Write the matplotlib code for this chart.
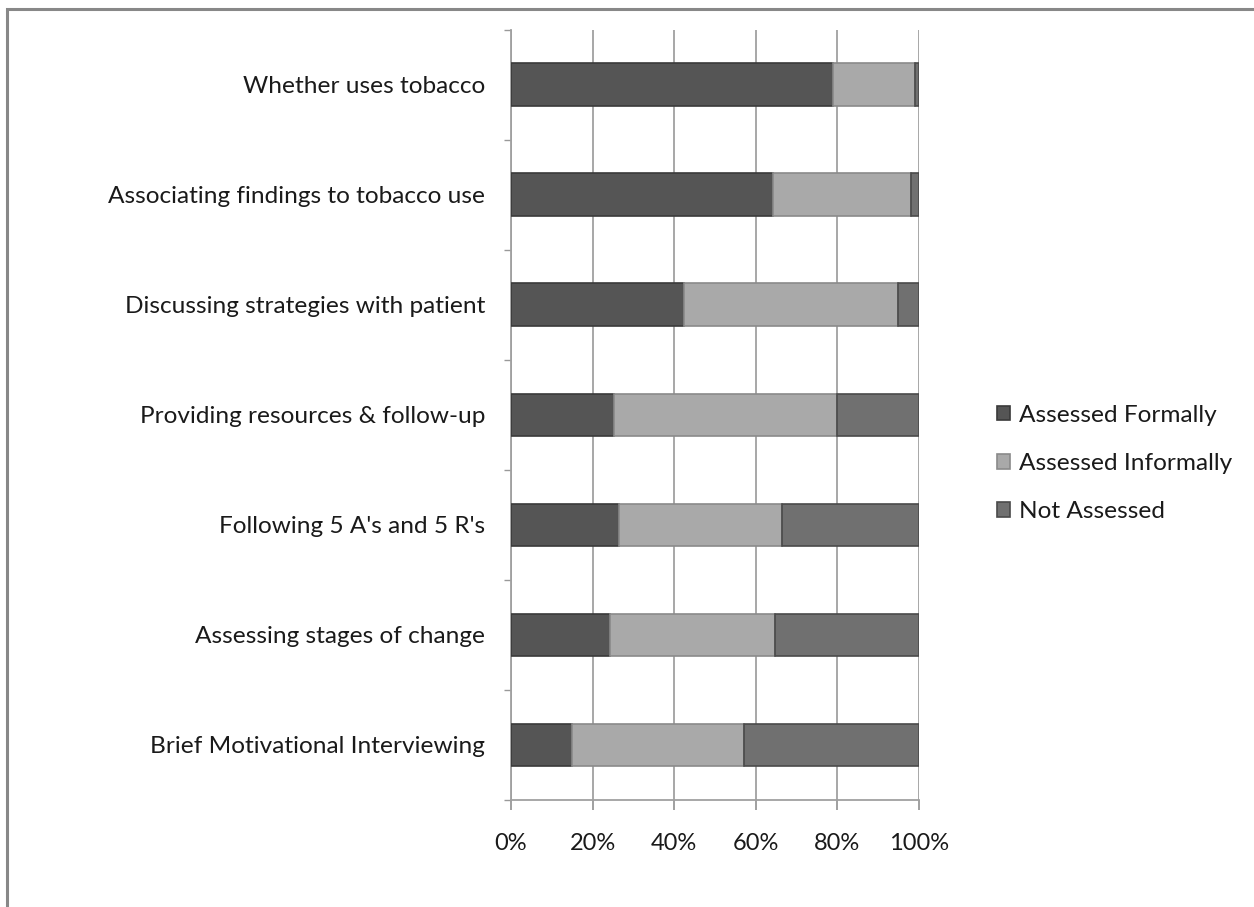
import numpy as np
import matplotlib
matplotlib.use("Agg")
import matplotlib.pyplot as plt
from matplotlib.patches import Rectangle

categories = [
    "Whether uses tobacco",
    "Associating findings to tobacco use",
    "Discussing strategies with patient",
    "Providing resources & follow-up",
    "Following 5 A's and 5 R's",
    "Assessing stages of change",
    "Brief Motivational Interviewing",
]
formally = [78.8, 64.3, 42.3, 25.3, 26.5, 24.3, 15.0]
informally = [20.2, 33.7, 52.6, 54.7, 39.8, 40.5, 42.2]
not_assessed = [1.0, 2.0, 5.1, 20.0, 33.7, 35.2, 42.8]
series_names = ["Assessed Formally", "Assessed Informally", "Not Assessed"]
x_ticks = [0, 20, 40, 60, 80, 100]

plt.rcParams['font.family'] = ['Lato', 'DejaVu Sans']
fs = 17
fs_lbl = 17.6

fig = plt.figure(figsize=(12.54, 9.07), dpi=100)
ax = fig.add_axes([0.4075, 0.118, 0.3254, 0.849])

y = np.arange(len(categories))
fills = ['#555555', '#a9a9a9', '#707070']
edges = ['#3a3a3a', '#8a8a8a', '#4a4a4a']
left = np.zeros(len(categories))
for vals, name, fc, ec in zip([formally, informally, not_assessed], series_names, fills, edges):
    ax.barh(y, vals, left=left, height=0.39, color=fc, edgecolor=ec, linewidth=1.2,
            label=name, zorder=3)
    left += np.array(vals)

ax.set_xlim(0, 100)
ax.set_ylim(len(categories) - 0.5, -0.5)

ax.set_xticks(x_ticks)
ax.set_xticklabels([f"{t}%" for t in x_ticks])
ax.set_yticks(y)
ax.set_yticklabels(categories)
ax.set_yticks(np.arange(-0.5, len(categories), 1), minor=True)
ax.tick_params(axis='y', which='major', length=0, pad=18.5, labelsize=fs_lbl, labelcolor='#1a1a1a')
ax.tick_params(axis='y', which='minor', length=5, color='#999999', width=1)
ax.tick_params(axis='x', which='major', length=7, color='#999999', width=1.3, pad=17,
               labelsize=fs, labelcolor='#1a1a1a')

ax.grid(axis='x', color='#a0a0a0', linewidth=1.3, zorder=0)
for s in ['top', 'right']:
    ax.spines[s].set_visible(False)
for s in ['left', 'bottom']:
    ax.spines[s].set_color('#a0a0a0')
    ax.spines[s].set_linewidth(1.3)

leg = ax.legend(loc='center left', bbox_to_anchor=(1.138, 0.437), frameon=False, fontsize=fs_lbl,
                handlelength=0.53, handleheight=0.53, handletextpad=0.35, labelspacing=1.12)
for t in leg.get_texts():
    t.set_color('#1a1a1a')

# outer chart border
fig.patches.append(Rectangle((7 / 1254, -0.1), 1.2, 1 - 9 / 907 + 0.1, transform=fig.transFigure,
                             fill=False, edgecolor='#888888', linewidth=2.2))

fig.savefig("out.png", dpi=100)
